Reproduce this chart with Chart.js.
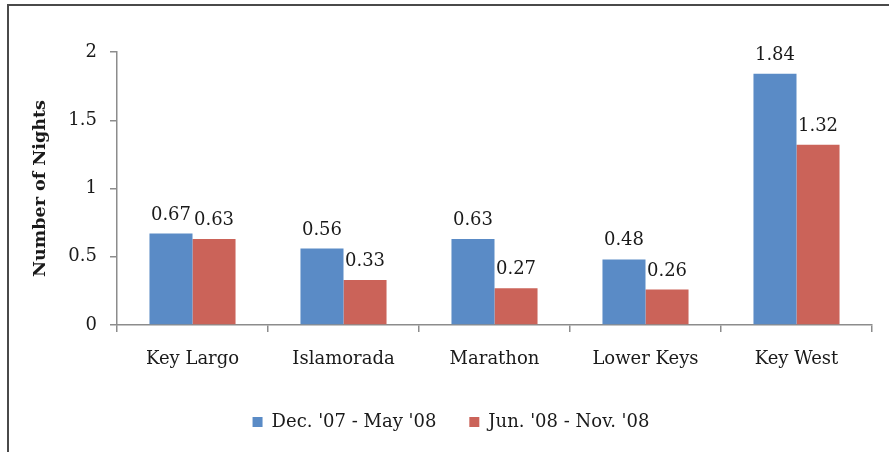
<!DOCTYPE html>
<html>
<head>
<meta charset="utf-8">
<script src="https://cdn.jsdelivr.net/npm/chart.js@4.4.0/dist/chart.umd.min.js"></script>
<style>
  html, body { margin: 0; padding: 0; background: #fff; }
  #wrap { position: relative; width: 889px; height: 452px; overflow: hidden; }
  #frame { position: absolute; left: 7px; top: 4px; width: 900px; height: 470px;
           border-top: 2px solid #4a4a4a; border-left: 2px solid #4a4a4a; }
  canvas { position: absolute; left: 0; top: 0; }
</style>
</head>
<body>
<div id="wrap">
  <div id="frame"></div>
  <canvas id="chart" width="889" height="452"></canvas>
</div>
<script>
// values
const regions = ['Key Largo', 'Islamorada', 'Marathon', 'Lower Keys', 'Key West']
const winterNights = [0.67, 0.56, 0.63, 0.48, 1.84]
const summerNights = [0.63, 0.33, 0.27, 0.26, 1.32]
const seriesNames = ["Dec. '07 - May '08", "Jun. '08 - Nov. '08"]
const yTicks = [0, 0.5, 1, 1.5, 2]

const axisGray = '#8c8c8c'
const textColor = '#1a1a1a'

Chart.defaults.font.family = "'DejaVu Serif', serif"
Chart.defaults.font.size = 18
Chart.defaults.color = textColor

// value labels above each bar
const barLabels = {
  id: 'barLabels',
  afterDatasetsDraw(chart) {
    const ctx = chart.ctx
    ctx.save()
    ctx.font = "18px 'DejaVu Serif', serif"
    ctx.fillStyle = textColor
    ctx.textAlign = 'center'
    ctx.textBaseline = 'alphabetic'
    chart.data.datasets.forEach((ds, i) => {
      chart.getDatasetMeta(i).data.forEach((bar, j) => {
        ctx.fillText(ds.data[j].toFixed(2), bar.x, bar.y - 14)
      })
    })
    ctx.restore()
  }
}

new Chart(document.getElementById('chart'), {
  type: 'bar',
  data: {
    labels: regions,
    datasets: [{
      label: seriesNames[0],
      data: winterNights,
      backgroundColor: '#5a8bc6',
      borderWidth: 0,
      categoryPercentage: 0.57,
      barPercentage: 1
    }, {
      label: seriesNames[1],
      data: summerNights,
      backgroundColor: '#cb6359',
      borderWidth: 0,
      categoryPercentage: 0.57,
      barPercentage: 1
    }]
  },
  options: {
    responsive: false,
    animation: false,
    layout: { padding: { left: 30, top: 52, right: 17, bottom: 11 } },
    scales: {
      x: {
        border: { color: axisGray, width: 1.5 },
        grid: { drawOnChartArea: false, color: axisGray, tickLength: 7, offset: true, lineWidth: 1.5 },
        ticks: { padding: 17 },
        afterFit: s => { s.height = 78 }
      },
      y: {
        min: 0,
        max: 2,
        afterBuildTicks: s => { s.ticks = yTicks.map(v => ({ value: v })) },
        border: { color: axisGray, width: 1.5 },
        grid: { drawOnChartArea: false, color: axisGray, tickLength: 7, lineWidth: 1.5 },
        ticks: { padding: 13, callback: v => String(v) },
        title: { display: true, text: 'Number of Nights', font: { size: 17.5, weight: 'bold' }, padding: 0 },
        afterFit: s => { s.width = 87 }
      }
    },
    plugins: {
      tooltip: { enabled: false },
      legend: {
        position: 'bottom',
        labels: {
          boxWidth: 10,
          boxHeight: 10,
          padding: 10,
          generateLabels: chart => {
            const items = Chart.defaults.plugins.legend.labels.generateLabels(chart)
            items.forEach((it, i) => { if (i < items.length - 1) it.text += '    ' })
            return items
          }
        }
      }
    }
  },
  plugins: [barLabels]
})
</script>
</body>
</html>
